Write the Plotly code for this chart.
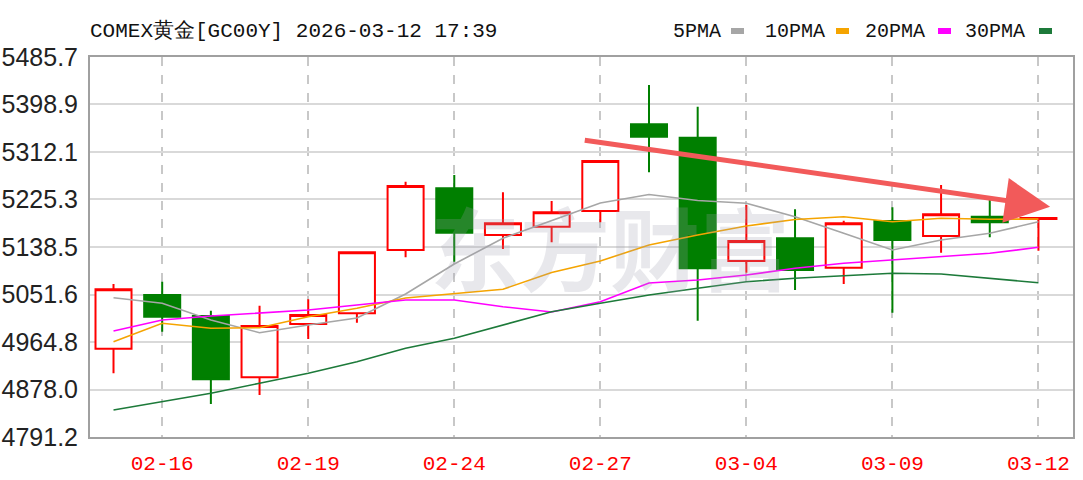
import plotly.graph_objects as go

# ---- data ----
dates = ["02-13", "02-16", "02-17", "02-18", "02-19", "02-20", "02-23", "02-24",
         "02-25", "02-26", "02-27", "03-02", "03-03", "03-04", "03-05", "03-06",
         "03-09", "03-10", "03-11", "03-12"]
opens = [4952.6, 5050.7, 5012.4, 4900.3, 4997.7, 5017.3, 5133.0, 5245.7,
         5160.4, 5175.6, 5204.2, 5362.7, 5338.2, 5112.9, 5154.4, 5100.6,
         5186.0, 5158.6, 5193.8, 5189.5]
highs = [5070.8, 5075.0, 5022.0, 5031.2, 5042.9, 5130.0, 5257.8, 5270.0,
         5238.4, 5222.5, 5297.0, 5434.5, 5394.9, 5215.2, 5207.4, 5186.5,
         5211.0, 5251.8, 5224.4, 5192.0]
lows = [4907.6, 4983.7, 4851.5, 4868.0, 4970.3, 5000.1, 5119.6, 5111.6,
        5134.8, 5147.0, 5183.6, 5275.0, 5003.8, 5091.5, 5059.9, 5070.8,
        5018.4, 5128.0, 5156.2, 5131.7]
closes = [5061.1, 5011.1, 4896.7, 4994.1, 5014.2, 5128.8, 5249.9, 5164.6,
          5181.8, 5201.9, 5295.6, 5340.0, 5099.5, 5149.4, 5096.4, 5181.8,
          5151.2, 5198.2, 5183.6, 5191.5]
ma5 = [5045.8, 5035.6, 5005.0, 4981.8, 4995.9, 5008.7, 5052.6, 5107.4,
       5154.4, 5186.0, 5218.9, 5234.4, 5223.4, 5218.3, 5193.8, 5163.5,
       5133.0, 5151.2, 5163.5, 5184.7]
ma10 = [4965.4, 4999.0, 4989.9, 4991.0, 5011.1, 5026.4, 5045.3, 5053.8,
        5061.3, 5091.9, 5112.9, 5142.1, 5160.4, 5176.8, 5188.7, 5193.8,
        5184.7, 5190.9, 5189.1, 5189.6]
ma20 = [4984.9, 5005.0, 5012.4, 5017.3, 5023.3, 5032.5, 5041.6, 5041.6,
        5029.3, 5019.7, 5038.5, 5072.7, 5078.1, 5087.3, 5099.5, 5108.7,
        5114.7, 5122.0, 5126.9, 5137.9]
ma30 = [4840.6, 4855.7, 4871.1, 4889.4, 4907.6, 4928.8, 4953.3, 4971.6,
        4995.9, 5020.2, 5035.6, 5050.7, 5063.0, 5075.0, 5081.3, 5086.0,
        5090.4, 5089.1, 5081.3, 5073.2]
y_ticks = [4791.2, 4878.0, 4964.8, 5051.6, 5138.5, 5225.3, 5312.1, 5398.9, 5485.7]
y_tick_text = ["%.1f" % v for v in y_ticks]
x_tick_labels = ["02-16", "02-19", "02-24", "02-27", "03-04", "03-09", "03-12"]
title_text = "COMEX黄金[GC00Y] 2026-03-12 17:39"
legend_names = ["5PMA", "10PMA", "20PMA", "30PMA"]
ma_colors = ["#a6a6a6", "#f5a400", "#ff00ff", "#1d7a3a"]
arrow_tail = (9.65, 5334.0)
arrow_tip = (19.24, 5212.0)

W, H = 1083, 480
L, R, T, B = 90, 10, 57, 43
pw, ph = W - L - R, H - T - B


def px(xp):  # page pixel -> paper x
    return (xp - L) / pw


def py(yp):  # page pixel -> paper y
    return 1 + (T - yp) / ph


fig = go.Figure()

fig.add_trace(go.Candlestick(
    x=dates, open=opens, high=highs, low=lows, close=closes,
    increasing=dict(line=dict(color="#ff0000", width=2), fillcolor="#ffffff"),
    decreasing=dict(line=dict(color="#007f00", width=2), fillcolor="#007f00"),
    whiskerwidth=0, showlegend=False, hoverinfo="x+y",
))

for name, vals, col in zip(legend_names, [ma5, ma10, ma20, ma30], ma_colors):
    fig.add_trace(go.Scatter(x=dates, y=vals, mode="lines", name=name,
                             line=dict(color=col, width=1.6), showlegend=False))

annotations = []
# watermark
annotations.append(dict(text="<b>东方财富</b>", xref="paper", yref="paper",
                        x=px(610), y=py(245), showarrow=False,
                        font=dict(family="Noto Sans CJK SC", size=90, color="rgba(160,160,175,0.24)"),
                        xanchor="center", yanchor="middle"))
# title
annotations.append(dict(text=title_text, xref="paper", yref="paper",
                        x=px(88), y=py(31), showarrow=False, xanchor="left", yanchor="middle",
                        font=dict(family="Liberation Mono", size=21, color="#111111")))
# legend
leg_text_x = [671, 763, 863, 963]
leg_sw_x = [731, 836, 938, 1039]
shapes = []
for name, tx, sx, col in zip(legend_names, leg_text_x, leg_sw_x, ma_colors):
    annotations.append(dict(text=name, xref="paper", yref="paper", x=px(tx), y=py(31),
                            showarrow=False, xanchor="left", yanchor="middle",
                            font=dict(family="Liberation Mono", size=20, color="#111111")))
    shapes.append(dict(type="rect", xref="paper", yref="paper",
                       x0=px(sx), x1=px(sx + 13), y0=py(34), y1=py(28),
                       fillcolor=col, line=dict(width=0)))
# arrow
annotations.append(dict(x=arrow_tip[0], y=arrow_tip[1], ax=arrow_tail[0], ay=arrow_tail[1],
                        xref="x", yref="y", axref="x", ayref="y", text="",
                        showarrow=True, arrowhead=2, arrowsize=1.8, arrowwidth=5,
                        arrowcolor="#f25a5a", standoff=0))

fig.update_layout(
    width=W, height=H,
    margin=dict(l=L, r=R, t=T, b=B, autoexpand=False),
    paper_bgcolor="white", plot_bgcolor="white",
    boxgap=0.26, boxgroupgap=0,
    annotations=annotations, shapes=shapes,
    showlegend=False,
)
fig.update_xaxes(
    type="category", range=[-0.483, 19.71], rangeslider=dict(visible=False),
    tickmode="array", tickvals=x_tick_labels, ticktext=x_tick_labels,
    tickfont=dict(family="Liberation Mono", size=21, color="#ff0000"),
    showgrid=True, gridcolor="#c8c8c8", gridwidth=1.5, griddash="dash",
    showline=True, linecolor="#a0a0a0", linewidth=2, mirror=True,
    ticks="", ticklabelstandoff=6, zeroline=False, automargin=False,
)
fig.update_yaxes(
    range=[4791.2, 5485.7], tickmode="array", tickvals=y_ticks, ticktext=y_tick_text,
    tickfont=dict(family="Liberation Sans", size=25, color="#222222"),
    showgrid=True, gridcolor="#d9d9d9", gridwidth=2,
    showline=True, linecolor="#a0a0a0", linewidth=2, mirror=True,
    ticks="", ticklabelstandoff=5, zeroline=False, automargin=False,
)

# remove the browser's default 8px body margin so the figure fills the window
fig.write_html("out.html", config={"displayModeBar": False},
               post_script="document.body.style.margin='0px';document.body.style.overflow='hidden';")
